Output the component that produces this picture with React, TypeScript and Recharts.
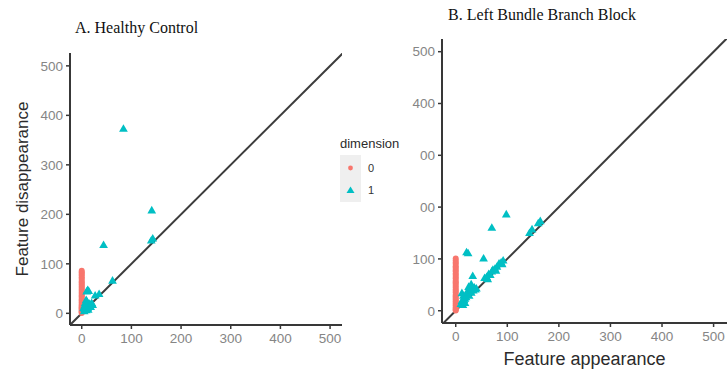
import React from "react";
import {
  ScatterChart,
  Scatter,
  XAxis,
  YAxis,
  ReferenceLine,
  Symbols,
} from "recharts";

// shared axis ticks
const axisTicks = [0, 100, 200, 300, 400, 500];
const tickLabels = ["0", "100", "200", "300", "400", "500"];
// right panel y labels: first digit of 300 / 200 is hidden under the legend in the source
const rightYTickLabels = ["0", "100", "00", "00", "400", "500"];

const RED = "#F8766D";
const TEAL = "#00BFC4";

// A. Healthy Control -- dimension 0 (birth is always 0)
const hcDim0Death = [
  0.5, 2, 3.5, 5, 7, 9, 11, 12, 14, 16, 18, 21, 23, 26, 28, 31, 34, 36, 39, 42,
  45, 48, 51, 54, 57, 60, 63, 66, 70, 73, 77, 80, 83, 86,
];
// A. Healthy Control -- dimension 1 [birth, death]
const hcDim1: [number, number][] = [
  [84, 372], [141, 207], [140, 146], [143, 150], [44, 137], [62, 65],
  [35, 38], [27, 35], [12, 46], [10, 43], [14, 44],
  [5, 3], [6, 8], [8, 12], [9, 5], [10, 16], [12, 10], [14, 14], [16, 18],
  [18, 12], [7, 20], [9, 26], [11, 22], [20, 20], [4, 10], [13, 6], [6, 15],
  [22, 16],
];

// B. Left Bundle Branch Block -- dimension 0
const lbbbDim0Death = [
  0.5, 2, 4, 6, 9, 11, 14, 17, 19, 22, 25, 28, 31, 35, 38, 41, 45, 48, 52, 55,
  58, 62, 65, 69, 72, 76, 79, 83, 86, 90, 93, 97, 101,
];
// B. Left Bundle Branch Block -- dimension 1
const lbbbDim1: [number, number][] = [
  [98, 185], [70, 159], [21, 112], [24, 110], [54, 100], [33, 66],
  [143, 149], [148, 156], [164, 172], [160, 168],
  [56, 62], [60, 64], [64, 70], [67, 68], [70, 75], [72, 78], [76, 80],
  [80, 84], [84, 90], [88, 92], [92, 96], [90, 89], [78, 76], [62, 60],
  [10, 12], [12, 18], [12, 33], [15, 28], [18, 22], [20, 25], [22, 35],
  [24, 30], [26, 28], [28, 40], [30, 34], [32, 42], [34, 38], [36, 44],
  [38, 40], [40, 42], [16, 20], [18, 14], [25, 45], [30, 50], [14, 10],
];

const toPoints = (pairs: [number, number][]) =>
  pairs.map(([x, y]) => ({ x, y }));
const zeroBirth = (deaths: number[]) => deaths.map((y) => ({ x: 0, y }));

const tickStyle = { fill: "#858585", fontSize: 13.5 };
const axisColor = "#383838";
const fontSans = "'Liberation Sans', Arial, sans-serif";

function fmt(labels: string[]) {
  return (v: number) => labels[axisTicks.indexOf(v)] ?? String(v);
}

// ggplot-ish point shapes, sized by hand
const dotShape = (p: any) => (
  <Symbols cx={p.cx} cy={p.cy} type="circle" size={28} fill={RED} />
);
const triShape = (p: any) => (
  <Symbols cx={p.cx} cy={p.cy} type="triangle" size={33} fill={TEAL} />
);

const leftYTitle = (p: any) => {
  const vb = p.viewBox || { x: 0, y: 53, width: 70, height: 272 };
  const cx = vb.x + 22;
  const cy = vb.y + vb.height / 2;
  return (
    <text
      x={cx}
      y={cy}
      transform={`rotate(-90 ${cx} ${cy})`}
      textAnchor="middle"
      dominantBaseline="central"
      fontSize={17}
      fill="#2b2b2b"
      fontFamily={fontSans}
    >
      Feature disappearance
    </text>
  );
};

export default function App() {
  return (
    <div
      style={{
        position: "absolute",
        left: 0,
        top: 0,
        width: 728,
        height: 373,
        background: "#fff",
        overflow: "hidden",
        fontFamily: fontSans,
      }}
    >
      {/* A. Healthy Control */}
      <div style={{ position: "absolute", left: 0, top: 0 }}>
        <ScatterChart
          width={360}
          height={373}
          margin={{ top: 53, right: 18, bottom: 0, left: 0 }}
        >
          <XAxis
            type="number"
            dataKey="x"
            domain={[-23.6, 524]}
            allowDataOverflow
            ticks={axisTicks}
            tickFormatter={fmt(tickLabels)}
            height={48}
            tick={tickStyle}
            tickSize={4}
            tickMargin={4}
            axisLine={{ stroke: axisColor, strokeWidth: 2 }}
            tickLine={{ stroke: axisColor, strokeWidth: 1.5 }}
          />
          <YAxis
            type="number"
            dataKey="y"
            domain={[-23.6, 526]}
            allowDataOverflow
            ticks={axisTicks}
            tickFormatter={fmt(tickLabels)}
            width={70}
            tick={tickStyle}
            tickSize={4}
            tickMargin={3}
            axisLine={{ stroke: axisColor, strokeWidth: 2 }}
            tickLine={{ stroke: axisColor, strokeWidth: 1.5 }}
            label={{ content: leftYTitle }}
          />
          <ReferenceLine
            segment={[
              { x: -30, y: -30 },
              { x: 530, y: 530 },
            ]}
            stroke="#3c3c3c"
            strokeWidth={2}
            ifOverflow="hidden"
          />
          <Scatter
            data={zeroBirth(hcDim0Death)}
            fill={RED}
            shape={dotShape}
            isAnimationActive={false}
          />
          <Scatter
            data={toPoints(hcDim1)}
            fill={TEAL}
            shape={triShape}
            isAnimationActive={false}
          />
        </ScatterChart>
      </div>

      {/* B. Left Bundle Branch Block */}
      <div style={{ position: "absolute", left: 360, top: 0 }}>
        <ScatterChart
          width={368}
          height={373}
          margin={{ top: 39, right: 1, bottom: 0, left: 0 }}
        >
          <XAxis
            type="number"
            dataKey="x"
            domain={[-26.6, 526]}
            allowDataOverflow
            ticks={axisTicks}
            tickFormatter={fmt(tickLabels)}
            height={50}
            tick={tickStyle}
            tickSize={4}
            tickMargin={4}
            axisLine={{ stroke: axisColor, strokeWidth: 2 }}
            tickLine={{ stroke: axisColor, strokeWidth: 1.5 }}
            label={{
              value: "Feature appearance",
              position: "insideBottom",
              offset: 8,
              fontSize: 18,
              fill: "#2b2b2b",
            }}
          />
          <YAxis
            type="number"
            dataKey="y"
            domain={[-23.7, 524.5]}
            allowDataOverflow
            ticks={axisTicks}
            tickFormatter={fmt(rightYTickLabels)}
            width={82}
            tick={tickStyle}
            tickSize={4}
            tickMargin={3}
            axisLine={{ stroke: axisColor, strokeWidth: 2 }}
            tickLine={{ stroke: axisColor, strokeWidth: 1.5 }}
          />
          <ReferenceLine
            segment={[
              { x: -30, y: -30 },
              { x: 530, y: 530 },
            ]}
            stroke="#3c3c3c"
            strokeWidth={2}
            ifOverflow="hidden"
          />
          <Scatter
            data={zeroBirth(lbbbDim0Death)}
            fill={RED}
            shape={dotShape}
            isAnimationActive={false}
          />
          <Scatter
            data={toPoints(lbbbDim1)}
            fill={TEAL}
            shape={triShape}
            isAnimationActive={false}
          />
        </ScatterChart>
      </div>

      {/* titles and legend */}
      <svg
        width={728}
        height={373}
        style={{ position: "absolute", left: 0, top: 0, pointerEvents: "none" }}
      >
        <g fontFamily="'Liberation Serif', 'Times New Roman', serif" fontSize={16} fill="#111">
          <text x={75} y={33}>A. Healthy Control</text>
          <text x={448} y={20}>B. Left Bundle Branch Block</text>
        </g>
        <g fontFamily={fontSans}>
          <text x={340} y={148} fontSize={13} fill="#2b2b2b">dimension</text>
          <rect x={340} y={155} width={21} height={47} fill="#efefef" />
          <circle cx={350.5} cy={168} r={2.4} fill={RED} />
          <path d="M350.5 186.5 L354.5 193 L346.5 193 Z" fill={TEAL} />
          <text x={368} y={172} fontSize={11} fill="#333">0</text>
          <text x={368} y={194} fontSize={11} fill="#333">1</text>
        </g>
      </svg>
    </div>
  );
}
